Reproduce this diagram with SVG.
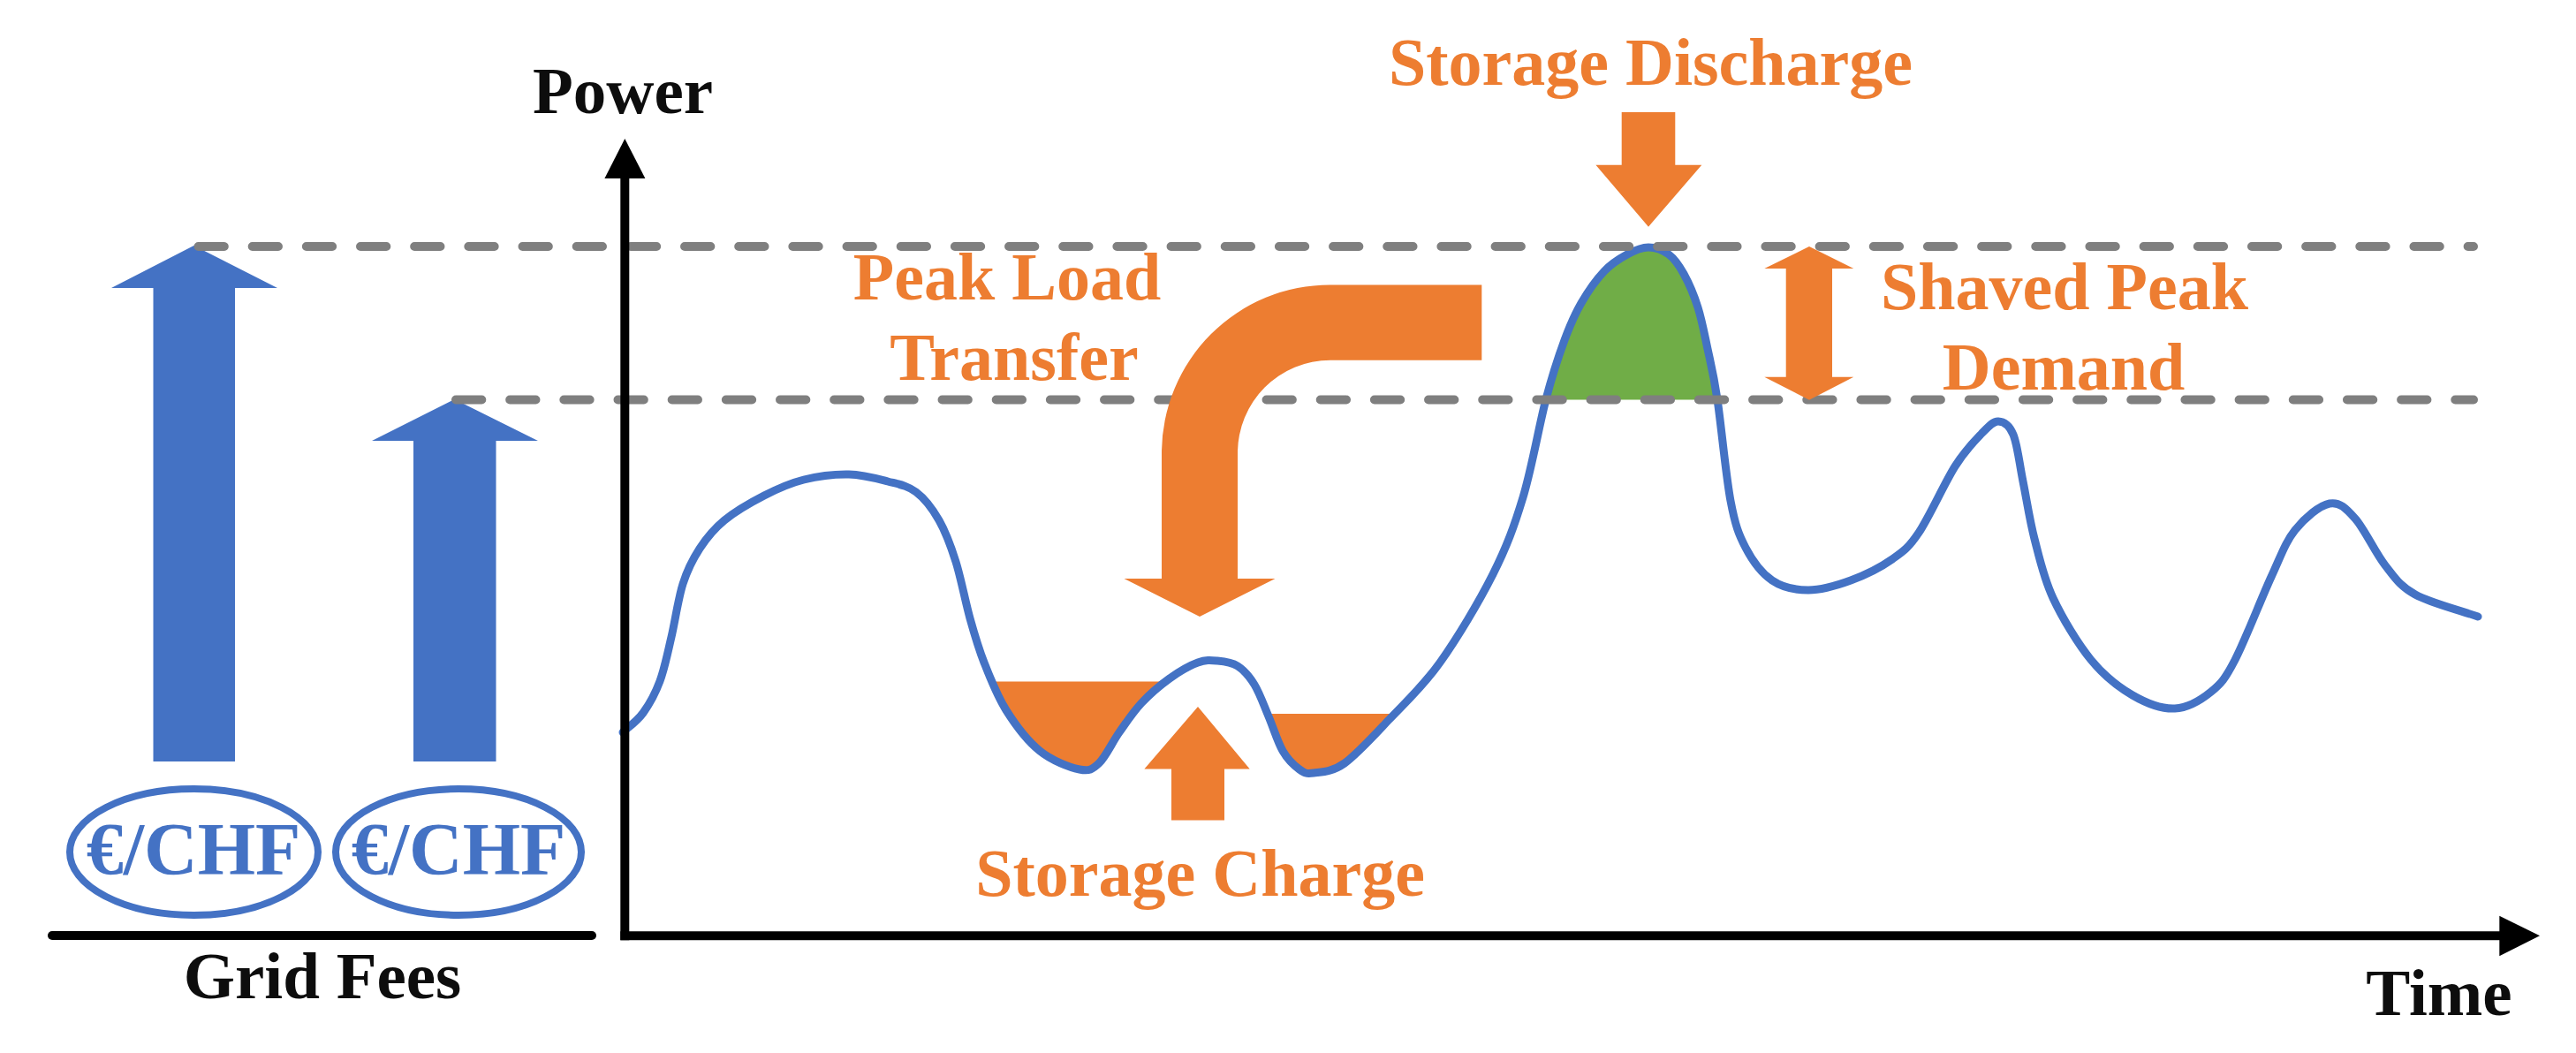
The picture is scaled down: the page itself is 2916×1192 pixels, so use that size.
<svg xmlns="http://www.w3.org/2000/svg" width="2916" height="1192" viewBox="0 0 2916 1192">
<defs>
<style>
text{font-family:'Liberation Serif','Times New Roman',Times,'DejaVu Serif',serif;font-weight:700;}
.blk{fill:#0D0D0D;font-size:75px;}
.org{fill:#ED7D31;font-size:76px;}
.blu{fill:#4472C4;font-size:84px;}
.dash{stroke:#7F7F7F;stroke-width:10;stroke-linecap:round;stroke-dasharray:29.3 31.87;fill:none;}
.axis{stroke:#000;stroke-width:10;fill:none;}
.oval{stroke:#4472C4;stroke-width:8;fill:none;}
</style>
<clipPath id="c1"><rect x="0" y="771.4" width="2916" height="421"/></clipPath>
<clipPath id="c2"><rect x="0" y="808" width="2916" height="384"/></clipPath>
<clipPath id="c3"><rect x="0" y="0" width="2916" height="452.5"/></clipPath>
</defs>
<rect width="2916" height="1192" fill="#FFFFFF"/>

<g id="fee-arrow-high">
<path d="M219.5,278 L314,326 L266,326 L266,862 L173.5,862 L173.5,326 L126,326 Z" fill="#4472C4"/>
</g>
<g id="fee-arrow-low">
<path d="M514.5,452 L609,499 L561.5,499 L561.5,862 L468,862 L468,499 L421,499 Z" fill="#4472C4"/>
</g>
<g id="fee-oval-1">
<ellipse class="oval" cx="219.5" cy="964.5" rx="140.5" ry="71.5"/>
<text class="blu" x="219" y="990" text-anchor="middle" font-family="Liberation Serif, serif">€/CHF</text>
</g>
<g id="fee-oval-2">
<ellipse class="oval" cx="519" cy="964.5" rx="139" ry="71.5"/>
<text class="blu" x="519" y="990" text-anchor="middle" font-family="Liberation Serif, serif">€/CHF</text>
</g>
<g id="grid-fees">
<line x1="59" y1="1059" x2="670" y2="1059" stroke="#000" stroke-width="10" stroke-linecap="round"/>
<text class="blk" x="365" y="1130" text-anchor="middle" font-family="Liberation Serif, serif">Grid Fees</text>
</g>

<g id="fills">
<path clip-path="url(#c1)" fill="#ED7D31" d="M1098,700 C1103.3,719 1107.2,732.7 1114,750 S1128.5,787.3 1139,804 S1163.2,838.8 1177,850 S1210.8,868.7 1222,871 S1236.5,871 1244,864 S1259,840.3 1267,829 S1282.5,806.2 1292,796 S1313.3,775.7 1324,768 S1347,753.3 1356,750 Z"/>
<path clip-path="url(#c2)" fill="#ED7D31" d="M1420,775 C1425.8,784.5 1430.7,798.5 1436,811 S1446.2,840 1452,850 S1465.2,866.8 1471,871 S1478.5,876.2 1487,875 S1507.7,874.2 1522,864 S1555,833 1573,814 S1610.5,777.3 1630,750 Z"/>
<path clip-path="url(#c3)" fill="#70AD47" d="M1724,563 C1734,530 1742.2,481.7 1750,452 S1764.3,403.2 1771,385 S1782.5,356 1790,343 S1807.3,316.2 1816,307 S1833.7,292.5 1842,288 S1858.2,280 1866,280 S1882.3,283 1889,288 S1900.5,300 1906,310 S1917.5,333.8 1922,348 S1929.3,377.7 1933,395 S1939.7,423.3 1944,452 S1953.7,539 1959,567 Z"/>
</g>

<g id="load-curve">
<path fill="none" stroke="#4472C4" stroke-width="9" stroke-linecap="round" stroke-linejoin="round" d="M705,829 C709,825 721,816.7 728,807 S741.7,785.3 747,771 S755.7,739.3 760,721 S767.7,677.7 773,661 S784.2,633 792,621 S807.8,599 820,589 S850,568.7 865,561 S894,547 910,543 S945.2,536.7 961,537 S992.3,541.7 1005,545 S1027.3,549.7 1037,557 S1055.5,575.8 1063,589 S1076.2,617.5 1082,636 S1092.7,681 1098,700 S1107.2,732.7 1114,750 S1128.5,787.3 1139,804 S1163.2,838.8 1177,850 S1210.8,868.7 1222,871 S1236.5,871 1244,864 S1259,840.3 1267,829 S1282.5,806.2 1292,796 S1313.3,775.7 1324,768 S1347,753.3 1356,750 S1370.5,747.3 1378,748 S1394,749.5 1401,754 S1414.2,765.5 1420,775 S1430.7,798.5 1436,811 S1446.2,840 1452,850 S1465.2,866.8 1471,871 S1478.5,876.2 1487,875 S1507.7,874.2 1522,864 S1555,833 1573,814 S1610.5,777.3 1630,750 S1674.3,681.2 1690,650 S1714,596 1724,563 S1742.2,481.7 1750,452 S1764.3,403.2 1771,385 S1782.5,356 1790,343 S1807.3,316.2 1816,307 S1833.7,292.5 1842,288 S1858.2,280 1866,280 S1882.3,283 1889,288 S1900.5,300 1906,310 S1917.5,333.8 1922,348 S1929.3,377.7 1933,395 S1939.7,423.3 1944,452 S1953.7,539 1959,567 S1968.2,605 1976,620 S1994.2,649 2006,657 S2032.2,668 2047,668 S2079.2,662.8 2095,657 S2129.2,642 2142,633 S2160.2,620.5 2172,603 S2201.2,546.7 2213,528 S2234.8,499.5 2243,491 S2256,476.8 2262,477 S2274.3,480.7 2279,492 S2286,525.3 2290,545 S2297.3,588 2303,610 S2313.3,654.2 2324,677 S2352,728.7 2367,747 S2398.2,777.8 2414,787 S2447.2,802.7 2462,802 S2491.7,792.2 2503,783 S2518.7,768.7 2530,747 S2559.7,677.5 2571,653 S2587,613.8 2598,600 S2625.7,572.2 2637,570 S2655.5,575.3 2666,587 S2688.7,625.7 2700,640 S2716.5,663.3 2734,673 S2781.3,689.7 2805,698"/>
</g>

<g id="connectors">
<line class="dash" x1="224.5" y1="279" x2="2800" y2="279"/>
<line class="dash" x1="516" y1="452.5" x2="2800" y2="452.5"/>
</g>

<g id="peak-load-transfer">
<path fill="#ED7D31" d="M1677.3,322.5 L1506,322.5 A190.5,190.5 0 0 0 1315,513 L1315,655 L1272.5,655 L1358,698 L1443.5,655 L1401,655 L1401,513 A105,105 0 0 1 1506,407.7 L1677.3,407.7 Z"/>
<text class="org" x="1140" y="339" text-anchor="middle" font-family="Liberation Serif, serif">Peak Load</text>
<text class="org" x="1148" y="430" text-anchor="middle" font-family="Liberation Serif, serif">Transfer</text>
</g>

<g id="storage-discharge">
<path fill="#ED7D31" d="M1835.7,127 L1896.3,127 L1896.3,186.7 L1926.3,186.7 L1866,256.7 L1806.4,186.7 L1835.7,186.7 Z"/>
<text class="org" x="1868.5" y="96" text-anchor="middle" font-family="Liberation Serif, serif">Storage Discharge</text>
</g>

<g id="storage-charge">
<path fill="#ED7D31" d="M1356,800 L1414.7,870.4 L1386,870.4 L1386,928.6 L1326,928.6 L1326,870.4 L1295.4,870.4 Z"/>
<text class="org" x="1358.6" y="1014" text-anchor="middle" font-family="Liberation Serif, serif">Storage Charge</text>
</g>

<g id="shaved-peak">
<path fill="#ED7D31" d="M2048,279 L2098.3,304 L2074,304 L2074,426.7 L2098.3,426.7 L2048,452.7 L1997.3,426.7 L2021.7,426.7 L2021.7,304 L1997.3,304 Z"/>
<text class="org" x="2337" y="350" text-anchor="middle" font-family="Liberation Serif, serif">Shaved Peak</text>
<text class="org" x="2336" y="441" text-anchor="middle" font-family="Liberation Serif, serif">Demand</text>
</g>

<g id="axes">
<line class="axis" x1="707.3" y1="198" x2="707.3" y2="1064.3"/>
<path d="M707.3,157 L730.4,202 L684.4,202 Z" fill="#000"/>
<line class="axis" x1="702.3" y1="1059.3" x2="2832" y2="1059.3"/>
<path d="M2875,1059.3 L2829.3,1082.3 L2829.3,1036.7 Z" fill="#000"/>
<text class="blk" x="705" y="128" text-anchor="middle" font-family="Liberation Serif, serif">Power</text>
<text class="blk" x="2761" y="1149" text-anchor="middle" font-family="Liberation Serif, serif">Time</text>
</g>
</svg>
